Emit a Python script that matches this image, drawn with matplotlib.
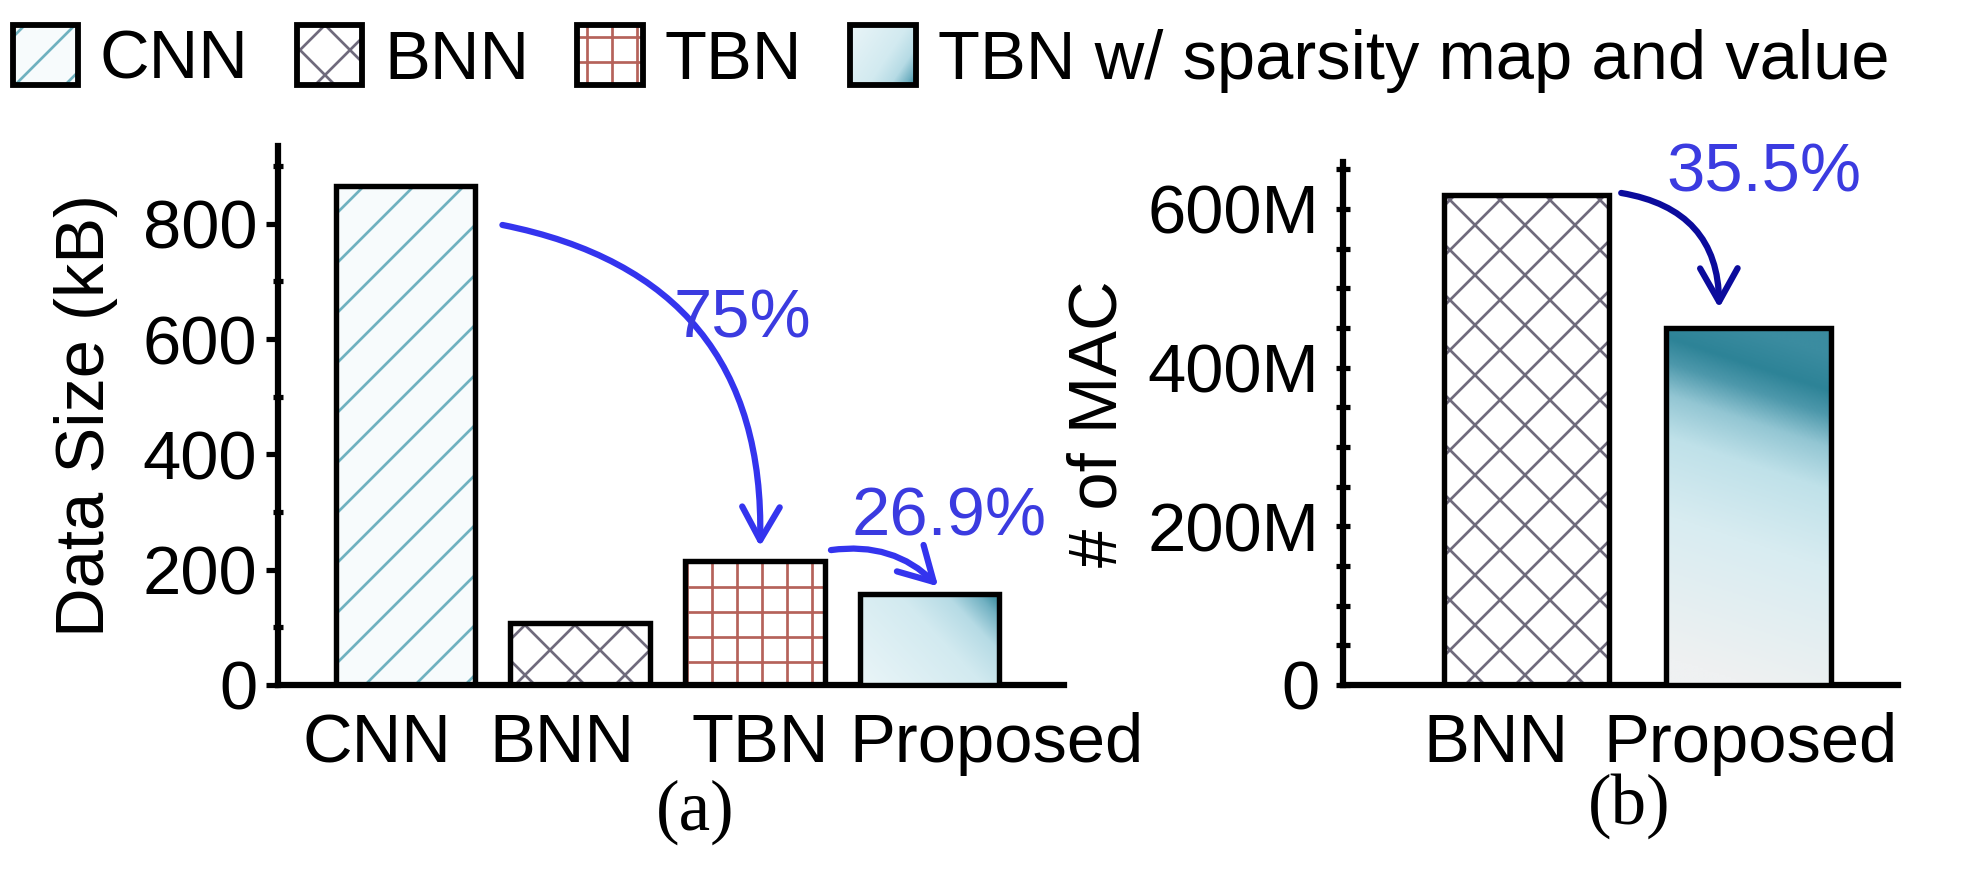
import numpy as np
import matplotlib
matplotlib.use("Agg")
import matplotlib.pyplot as plt
from matplotlib.colors import LinearSegmentedColormap
from matplotlib.patches import Patch, Rectangle
from matplotlib.legend_handler import HandlerTuple
from matplotlib.image import BboxImage
from matplotlib.transforms import Bbox, TransformedBbox, ScaledTranslation
from matplotlib.ticker import MultipleLocator, FuncFormatter

# ---- data ----
models_a = ["CNN", "BNN", "TBN", "Proposed"]
data_size_kb = [866, 107, 215, 157]
models_b = ["BNN", "Proposed"]
mac_count = [618e6, 450e6]
legend_labels = ["CNN", "BNN", "TBN", "TBN w/ sparsity map and value"]
reduction_a = ["75%", "26.9%"]
reduction_b = ["35.5%"]

plt.rcParams["font.family"] = ["Liberation Sans", "DejaVu Sans"]
plt.rcParams["hatch.linewidth"] = 1.3

DPI = 150
FS = 33
fig = plt.figure(figsize=(1963 / DPI, 881 / DPI), dpi=DPI)

# hatch look for each model
hatch_style = {
    "CNN": ("/", "#6fb1bf", "#f7fbfc"),
    "BNN": ("x", "#6f6a7c", "white"),
    "TBN": ("+", "#b5625a", "white"),
}

# gradient colour maps for the "Proposed" bars
cmap_a = LinearSegmentedColormap.from_list(
    "grad_a", [(0, "#eaf5f8"), (0.55, "#d2eaf0"), (0.76, "#b6dbe5"),
               (0.9, "#73b2c3"), (1.0, "#2f8599")])
cmap_b = LinearSegmentedColormap.from_list(
    "grad_b", [(0, "#eff1f2"), (0.4, "#d8ecf1"), (0.62, "#bfe1e9"),
               (0.74, "#93c6d3"), (0.83, "#4d98ab"), (0.9, "#2d8397"), (1.0, "#3b8ca0")])
gx, gy = np.meshgrid(np.linspace(0, 1, 200), np.linspace(0, 1, 200))
grad_a = np.clip(0.62 * gx + 0.38 * gy, 0, 1)
grad_b = np.clip(gy + 0.15 * (gx - 0.5), 0, 1)


def style_axes(ax):
    for s in ["top", "right"]:
        ax.spines[s].set_visible(False)
    for s in ["left", "bottom"]:
        ax.spines[s].set_linewidth(3)
        ax.spines[s].set_capstyle("projecting")
    ax.tick_params(axis="x", length=0, pad=13, labelsize=FS)
    ax.tick_params(axis="y", labelsize=FS)


def draw_bars(ax, names, vals, width, grad, cmap):
    x = np.arange(len(names))
    bars = []
    for xi, name, v in zip(x, names, vals):
        if name in hatch_style:
            h, hc, fc = hatch_style[name]
            ax.bar(xi, v, width, color=fc, edgecolor=hc, hatch=h, linewidth=0, zorder=2)
        outline = ax.bar(xi, v, width, fill=False, edgecolor="black", linewidth=2.6, zorder=4)[0]
        if name == "Proposed":
            x0, w, hgt = outline.get_x(), outline.get_width(), outline.get_height()
            im = ax.imshow(grad, cmap=cmap, vmin=0, vmax=1, origin="lower", aspect="auto",
                           extent=(x0, x0 + w, 0, hgt), interpolation="bilinear", zorder=3)
            im.set_clip_path(outline)
        bars.append(outline)
    ax.set_xticks(x, names)
    return bars


def shift_labels(ax, offsets_px):
    for lab, dx in zip(ax.get_xticklabels(), offsets_px):
        lab.set_transform(lab.get_transform() + ScaledTranslation(dx / DPI, 0, fig.dpi_scale_trans))


# ---- (a) data size ----
ax1 = fig.add_axes([0.1416, 0.2225, 0.4004, 0.6118])
style_axes(ax1)
draw_bars(ax1, models_a, data_size_kb, 0.80, grad_a, cmap_a)
ax1.set_xlim(-0.73, 3.77)
ax1.set_ylim(0, 935)
ax1.yaxis.set_major_locator(MultipleLocator(200))
ax1.yaxis.set_minor_locator(MultipleLocator(100))
ax1.tick_params(axis="y", which="major", direction="out", length=6, width=2.5, pad=4)
ax1.tick_params(axis="y", which="minor", direction="inout", length=5, width=2.5)
ax1.set_ylabel("Data Size (kB)", fontsize=FS, labelpad=12)
shift_labels(ax1, [-29, -18, 5, 67])

arrow_a = dict(arrowstyle="->,head_length=0.8,head_width=0.45", color="#3434ee",
               lw=3, shrinkA=0, shrinkB=0, mutation_scale=20)
ax1.annotate("", xy=(2 + 0.03, data_size_kb[2] + 25), xytext=(0 + 0.555, data_size_kb[0] - 68),
             arrowprops=dict(arrow_a, connectionstyle="arc3,rad=-0.42"), zorder=6)
ax1.annotate("", xy=(3 + 0.05, data_size_kb[3] + 14), xytext=(2 + 0.436, data_size_kb[2] + 19),
             arrowprops=dict(arrow_a, connectionstyle="arc3,rad=-0.25"), zorder=6)
ax1.text(1.93, 634, reduction_a[0], fontsize=FS, color="#3b3be0", ha="center", va="center", zorder=6)
ax1.text(3.11, 291, reduction_a[1], fontsize=FS, color="#3b3be0", ha="center", va="center", zorder=6)

# ---- (b) number of MAC ----
ax2 = fig.add_axes([0.6842, 0.2225, 0.2827, 0.5936])
style_axes(ax2)
draw_bars(ax2, models_b, mac_count, 0.743, grad_b, cmap_b)
ax2.set_xlim(-0.827, 1.673)
ax2.set_ylim(0, 659e6)
ax2.yaxis.set_major_locator(MultipleLocator(200e6))
ax2.yaxis.set_minor_locator(MultipleLocator(50e6))
ax2.yaxis.set_major_formatter(FuncFormatter(lambda v, p: "0" if v == 0 else f"{v / 1e6:.0f}M"))
ax2.tick_params(axis="y", which="both", direction="inout", length=7, width=2.5, pad=8)
ax2.set_ylabel("# of MAC", fontsize=FS, labelpad=8)
shift_labels(ax2, [-31, 2])

arrow_b = dict(arrow_a, color="#0b0b9c")
ax2.annotate("", xy=(1 - 0.133, mac_count[1] + 25e6), xytext=(0 + 0.426, mac_count[0] + 2e6),
             arrowprops=dict(arrow_b, connectionstyle="arc3,rad=-0.42"), zorder=6)
ax2.text(1.07, 645e6, reduction_b[0], fontsize=FS, color="#3b3be0", ha="center", va="center", zorder=6)

# panel captions
fig.text(0.354, 0.078, "(a)", fontsize=34, family="Liberation Serif", ha="center", va="center")
fig.text(0.830, 0.085, "(b)", fontsize=34, family="Liberation Serif", ha="center", va="center")


# ---- legend ----
class GradientHandler:
    def __init__(self, cmap, data):
        self.cmap, self.data = cmap, data

    def legend_artist(self, legend, orig_handle, fontsize, handlebox):
        x0, y0 = handlebox.xdescent, handlebox.ydescent
        w, h = handlebox.width, handlebox.height
        tr = handlebox.get_transform()
        bb = TransformedBbox(Bbox.from_bounds(-x0, -y0, w, h), tr)
        img = BboxImage(bb, cmap=self.cmap, interpolation="bilinear")
        img.set_data(self.data)
        img.set_clim(0, 1)
        handlebox.add_artist(img)
        rect = Rectangle((-x0, -y0), w, h, facecolor="none", edgecolor="black", lw=2.8, transform=tr)
        handlebox.add_artist(rect)
        return rect


handles = []
for name in legend_labels[:3]:
    h, hc, fc = hatch_style[name]
    handles.append((Patch(facecolor=fc, edgecolor=hc, hatch=h, lw=0),
                    Patch(fill=False, edgecolor="black", lw=2.8)))
grad_handle = Patch(facecolor="#c8e5ed")
handles.append(grad_handle)

fig.legend(handles, legend_labels, loc="center left", bbox_to_anchor=(0.0064, 0.933),
           ncol=4, frameon=False, fontsize=FS, handlelength=0.95, handleheight=0.95,
           handletextpad=0.32, columnspacing=0.7, borderpad=0, borderaxespad=0,
           handler_map={tuple: HandlerTuple(ndivide=1, pad=0),
                        grad_handle: GradientHandler(cmap_a, grad_a)})

fig.savefig("out.png", dpi=DPI)
